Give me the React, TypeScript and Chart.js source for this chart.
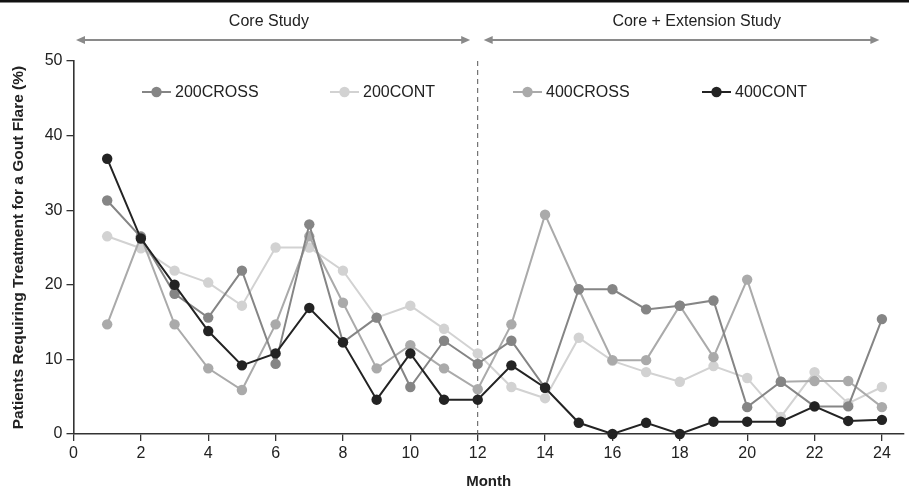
import React, { useEffect, useRef } from "react";
import { Chart, registerables } from "chart.js";

Chart.register(...registerables);

const months = [1, 2, 3, 4, 5, 6, 7, 8, 9, 10, 11, 12, 13, 14, 15, 16, 17, 18, 19, 20, 21, 22, 23, 24];
const xTicks = [0, 2, 4, 6, 8, 10, 12, 14, 16, 18, 20, 22, 24];
const yTicks = [0, 10, 20, 30, 40, 50];

const cross200 = [31.3, 26.4, 18.8, 15.6, 21.9, 9.4, 28.1, 12.3, 15.6, 6.3, 12.5, 9.4, 12.5, 6.2, 19.4, 19.4, 16.7, 17.2, 17.9, 3.6, 7.0, 3.7, 3.7, 15.4];
const cont200 = [26.5, 24.9, 21.9, 20.3, 17.2, 25.0, 25.0, 21.9, 15.6, 17.2, 14.1, 10.8, 6.3, 4.8, 12.9, 9.8, 8.3, 7.0, 9.1, 7.5, 2.3, 8.3, 4.1, 6.3];
const cross400 = [14.7, 26.5, 14.7, 8.8, 5.9, 14.7, 26.5, 17.6, 8.8, 11.9, 8.8, 6.0, 14.7, 29.4, 19.4, 9.9, 9.9, 17.2, 10.3, 20.7, 7.0, 7.1, 7.1, 3.6];
const cont400 = [36.9, 26.2, 20.0, 13.8, 9.2, 10.8, 16.9, 12.3, 4.6, 10.8, 4.6, 4.6, 9.2, 6.2, 1.5, 0, 1.5, 0, 1.65, 1.65, 1.65, 3.7, 1.75, 1.9];

const seriesLabels = ["200CROSS", "200CONT", "400CROSS", "400CONT"];
const seriesColors = ["#858585", "#d2d2d2", "#aaaaaa", "#232323"];
const seriesOrder = [1, 3, 2, 0];
const seriesValues = [cross200, cont200, cross400, cont400];

const periodLabels = ["Core Study", "Core + Extension Study"];
const periodTextCenters = [5.8, 18.5];
const periodSpans = [[0, 12], [12, 24]];
const dividerMonth = 12;

const FONT = "'Liberation Sans', Arial, Helvetica, sans-serif";

const overlayPlugin = {
  id: "overlay",
  beforeDatasetsDraw(chart: any) {
    const { ctx, chartArea, scales } = chart;
    const x = scales.x.getPixelForValue(dividerMonth);
    ctx.save();
    ctx.strokeStyle = "#555";
    ctx.lineWidth = 1;
    ctx.setLineDash([5, 4]);
    ctx.beginPath();
    ctx.moveTo(x, chartArea.top);
    ctx.lineTo(x, chartArea.bottom);
    ctx.stroke();
    ctx.restore();
  },
  afterDraw(chart: any) {
    const { ctx, chartArea, scales, width } = chart;
    const xs = scales.x;
    ctx.save();
    // top border
    ctx.fillStyle = "#111";
    ctx.fillRect(0, 0, width, 2.5);

    // period arrows and labels
    ctx.strokeStyle = "#8a8a8a";
    ctx.fillStyle = "#8a8a8a";
    ctx.lineWidth = 2;
    const ay = 40;
    periodSpans.forEach((span, i) => {
      const x1 = xs.getPixelForValue(span[0]) + (i === 0 ? 2.5 : 6);
      const x2 = xs.getPixelForValue(span[1]) - (i === 0 ? 7.5 : 2.5);
      ctx.beginPath();
      ctx.moveTo(x1 + 6, ay);
      ctx.lineTo(x2 - 6, ay);
      ctx.stroke();
      ctx.beginPath();
      ctx.moveTo(x1, ay);
      ctx.lineTo(x1 + 9, ay - 4);
      ctx.lineTo(x1 + 9, ay + 4);
      ctx.closePath();
      ctx.fill();
      ctx.beginPath();
      ctx.moveTo(x2, ay);
      ctx.lineTo(x2 - 9, ay - 4);
      ctx.lineTo(x2 - 9, ay + 4);
      ctx.closePath();
      ctx.fill();
    });
    ctx.fillStyle = "#222";
    ctx.font = `16px ${FONT}`;
    ctx.textAlign = "center";
    ctx.textBaseline = "middle";
    periodLabels.forEach((t, i) => {
      ctx.fillText(t, xs.getPixelForValue(periodTextCenters[i]), 22);
    });

    // legend
    const legendStarts = [142, 330, 513, 702];
    const ly = 92;
    ctx.textAlign = "left";
    seriesLabels.forEach((lab, i) => {
      const lx = legendStarts[i];
      ctx.strokeStyle = seriesColors[i];
      ctx.fillStyle = seriesColors[i];
      ctx.lineWidth = 2;
      ctx.beginPath();
      ctx.moveTo(lx, ly);
      ctx.lineTo(lx + 29, ly);
      ctx.stroke();
      ctx.beginPath();
      ctx.arc(lx + 14.5, ly, 5.2, 0, Math.PI * 2);
      ctx.fill();
      ctx.fillStyle = "#222";
      ctx.fillText(lab, lx + 33, ly + 1);
    });
    ctx.restore();
  },
};

export default function App() {
  const ref = useRef<HTMLCanvasElement>(null);
  useEffect(() => {
    document.body.style.margin = "0";
    const canvas = ref.current!;
    const chart = new Chart(canvas, {
      type: "line",
      data: {
        datasets: seriesLabels.map((lab, i) => ({
          label: lab,
          data: months.map((m, j) => ({ x: m, y: seriesValues[i][j] })),
          borderColor: seriesColors[i],
          backgroundColor: seriesColors[i],
          pointBackgroundColor: seriesColors[i],
          pointBorderColor: seriesColors[i],
          pointRadius: 5.2,
          pointBorderWidth: 0,
          borderWidth: 2,
          tension: 0,
          order: seriesOrder[i],
          clip: false as any,
        })),
      },
      options: {
        animation: false,
        responsive: false,
        maintainAspectRatio: false,
        devicePixelRatio: 1,
        layout: { padding: { top: 61, left: 0, right: 0, bottom: 0 } },
        plugins: { legend: { display: false }, tooltip: { enabled: false } },
        scales: {
          x: {
            type: "linear",
            min: 0,
            max: 24.65,
            afterBuildTicks: (scale: any) => {
              scale.ticks = xTicks.map((v) => ({ value: v }));
            },
            afterFit: (scale: any) => {
              scale.height = 58;
            },
            ticks: {
              font: { family: FONT, size: 16 },
              color: "#222",
              padding: 3,
              maxRotation: 0,
            },
            grid: { display: true, drawOnChartArea: false, drawTicks: true, tickLength: 7, color: "#333", lineWidth: 1.3 },
            border: { display: true, color: "#333", width: 1.6 },
            title: {
              display: true,
              text: "Month",
              font: { family: FONT, size: 15, weight: "bold" },
              color: "#222",
              padding: { top: 0, bottom: 1 },
            },
          },
          y: {
            type: "linear",
            min: 0,
            max: 50,
            afterBuildTicks: (scale: any) => {
              scale.ticks = yTicks.map((v) => ({ value: v }));
            },
            afterFit: (scale: any) => {
              scale.width = 73.5;
            },
            ticks: {
              font: { family: FONT, size: 16 },
              color: "#222",
              padding: 4,
            },
            grid: { display: true, drawOnChartArea: false, drawTicks: true, tickLength: 7, color: "#333", lineWidth: 1.3 },
            border: { display: true, color: "#333", width: 1.6 },
            title: {
              display: true,
              text: "Patients Requiring Treatment for a Gout Flare (%)",
              font: { family: FONT, size: 15.5, weight: "bold" },
              color: "#222",
              padding: { top: 9, bottom: 0 },
            },
          },
        },
      },
      plugins: [overlayPlugin],
    });
    return () => chart.destroy();
  }, []);
  return (
    <div style={{ width: 909, height: 492, background: "#fff" }}>
      <canvas ref={ref} width={909} height={492} style={{ display: "block", width: 909, height: 492 }} />
    </div>
  );
}
